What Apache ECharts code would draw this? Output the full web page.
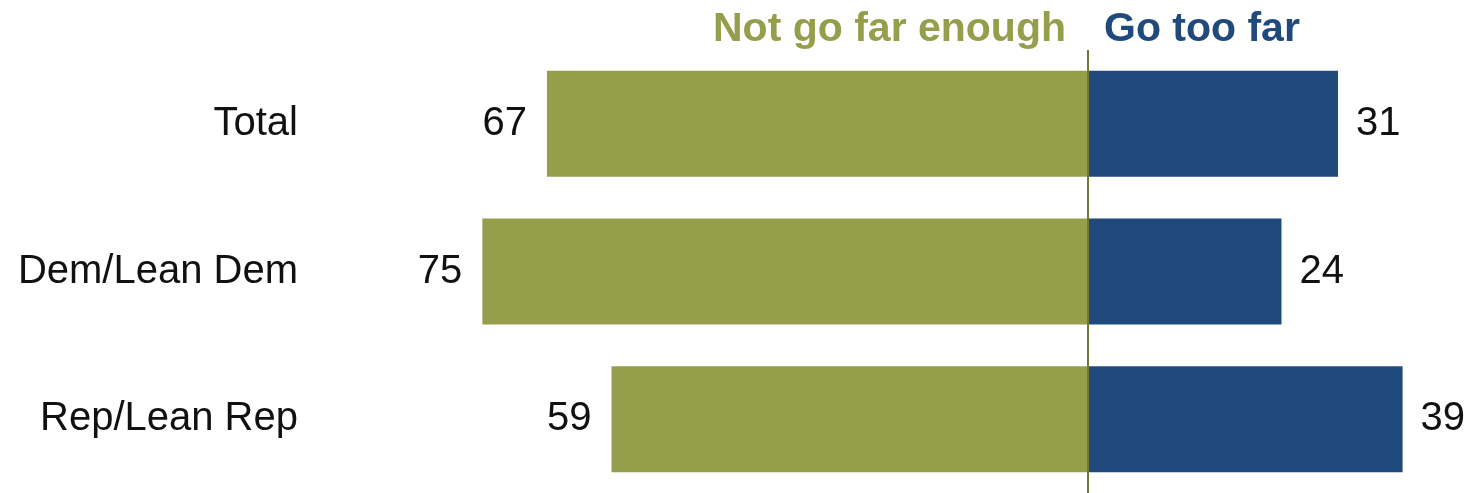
<!DOCTYPE html>
<html>
<head>
<meta charset="utf-8">
<script src="https://cdn.jsdelivr.net/npm/echarts@6/dist/echarts.min.js"></script>
<style>html,body{margin:0;padding:0;background:#fff}#c{width:1473px;height:493px}</style>
</head>
<body>
<div id="c"></div>
<script>
const categories = ['Total', 'Dem/Lean Dem', 'Rep/Lean Rep'];
const notFarEnough = [67, 75, 59];
const tooFar = [31, 24, 39];
const seriesNames = ['Not go far enough', 'Go too far'];

const GREEN = '#959e4a';
const BLUE = '#204a7b';
const bodyFont = '"Liberation Sans", Arial, sans-serif';
const headFont = '"Liberation Sans Narrow", "Liberation Sans", sans-serif';

const chart = echarts.init(document.getElementById('c'), null, {renderer: 'canvas'});
chart.setOption({
  animation: false,
  backgroundColor: '#fff',
  grid: {left: 442, top: 50, width: 1009, height: 447, containLabel: false},
  xAxis: {
    type: 'value', min: -80, max: 45,
    show: false
  },
  yAxis: {
    type: 'category', data: categories, inverse: true,
    axisLine: {show: false}, axisTick: {show: false}, splitLine: {show: false},
    axisLabel: {margin: 144, fontSize: 40, color: '#111', fontFamily: bodyFont}
  },
  graphic: [
    {type: 'text', right: 1473 - 1066, top: 9,
      style: {text: seriesNames[0], fill: GREEN, font: 'bold 41px ' + headFont, textAlign: 'right'}},
    {type: 'text', left: 1104, top: 9,
      style: {text: seriesNames[1], fill: BLUE, font: 'bold 41px ' + headFont}}
  ],
  series: [
    {
      name: seriesNames[0], type: 'bar', stack: 's', barWidth: 106,
      data: notFarEnough.map(v => -v),
      itemStyle: {color: GREEN},
      label: {show: true, position: 'left', distance: 20, fontSize: 40, color: '#111', fontFamily: bodyFont,
        formatter: p => Math.abs(p.value)},
      markLine: {
        silent: true, symbol: 'none', label: {show: false},
        lineStyle: {color: '#6e7a36', width: 2, type: 'solid'},
        data: [{xAxis: 0}],
        z: 10
      }
    },
    {
      name: seriesNames[1], type: 'bar', stack: 's2', barWidth: 106, barGap: '-100%',
      data: tooFar,
      itemStyle: {color: BLUE},
      label: {show: true, position: 'right', distance: 18, fontSize: 40, color: '#111', fontFamily: bodyFont}
    }
  ]
});
</script>
</body>
</html>
